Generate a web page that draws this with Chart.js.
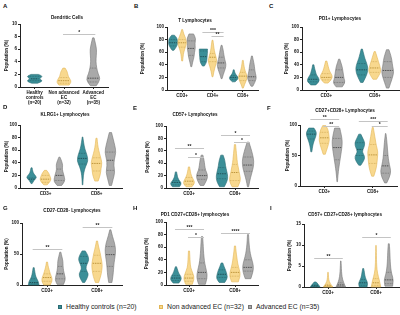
<!DOCTYPE html>
<html>
<head>
<meta charset="utf-8">
<script src="https://cdn.jsdelivr.net/npm/chart.js@4"></script>
<style>
body{margin:0;background:#fff;width:400px;height:315px;position:relative;overflow:hidden;font-family:"Liberation Sans",Arial,sans-serif}
canvas{position:absolute}
.t{position:absolute;font-weight:bold;font-size:4.6px;white-space:nowrap;transform:translate(-50%,-50%);color:#111}
.l{position:absolute;font-weight:bold;font-size:6px;color:#111}
.lg{position:absolute;top:303px;font-size:6.8px;white-space:nowrap;line-height:8px}
.lg span{color:#1a1a1a}
.lg i{display:inline-block;width:4px;height:4px;margin-right:4px;vertical-align:0px;box-sizing:border-box;border:0.7px solid}
</style>
</head>
<body>

<script>
// groups
const groups=['Healthy controls (n=20)','Non advanced EC (n=32)','Advanced EC (n=35)']

// tick values
const ticks10=[0,2,4,6,8,10]
const ticks100=[0,20,40,60,80,100]
const ticks50=[0,50,100]
const ticks15=[0,5,10,15]

// violin = [min, max, q1, median, q3, widths from min to max]
// A - Dendritic cells
const aLabels=[['Healthy','controls','(n=20)'],['Non advanced','EC','(n=32)'],['Advanced','EC','(n=35)']]
const aHealthy=[[0.6,2.0,1.0,1.3,1.7,[0.4,0.95,1,0.6,0.95,1,0.5]],null,null]
const aNonAdv=[null,[0.3,3.0,0.6,1.0,1.5,[0.7,1,0.85,0.6,0.5,0.4,0.15]],null]
const aAdv=[null,null,[0.2,7.8,0.8,1.4,3.0,[0.4,1,0.65,0.45,0.35,0.4,0.45,0.3,0.1]]]
const aSig=[[1,1,2,2,8.4,'*']]

// B - T lymphocytes
const bLabels=['CD3+','CD4+','CD8+']
const bHealthy=[[63,87,70,75,80,[0.2,0.6,0.9,1,0.95,0.8,0.3]],[38,65,45,53,62,[0.2,0.6,0.75,0.8,0.85,0.9,0.9]],[13,32,17,20,23,[0.3,0.8,1,0.7,0.35,0.2,0.1]]]
const bNonAdv=[[46,96,68,75,80,[0.1,0.2,0.35,0.7,1,0.8,0.35,0.1]],[21,79,45,52,58,[0.1,0.3,0.6,1,0.7,0.4,0.25,0.1]],[3,47,15,22,28,[0.1,0.4,0.8,1,0.6,0.35,0.2,0.1]]]
const bAdv=[[37,89,55,66,78,[0.1,0.3,0.6,0.7,0.9,0.8,1,0.5]],[18,71,35,43,52,[0.1,0.4,0.8,1,0.7,0.5,0.35,0.1]],[6,54,15,21,32,[0.2,0.7,1,0.75,0.6,0.5,0.3,0.1]]]
const bSig=[[0,1,2,1,92,'***'],[1,1,2,1,86,'**']]

// C - PD1+
const cLabels=['CD3+','CD8+']
const cHealthy=[[8,40,13,17,24,[0.4,1,0.9,0.5,0.35,0.2,0.1]],[12,65,24,32,42,[0.2,0.6,0.9,1,0.8,0.5,0.3,0.1]]]
const cNonAdv=[[11,46,16,20,26,[0.3,0.9,1,0.6,0.4,0.25,0.1]],[17,61,28,35,45,[0.3,0.7,1,0.9,0.7,0.5,0.3,0.1]]]
const cAdv=[[5,49,12,20,32,[0.5,1,0.8,0.7,0.6,0.5,0.3,0.1]],[3,64,20,31,45,[0.2,0.5,0.8,1,0.8,0.7,0.5,0.2]]]
const cSig=[]

// D - KLRG1+
const dLabels=['CD3+','CD8+']
const dHealthy=[[7,32,11,14,16,[0.1,0.4,1,0.4,0.2,0.1]],[5,81,38,47,55,[0.05,0.1,0.2,0.5,1,0.8,0.4,0.2,0.05]]]
const dNonAdv=[[5,28,9,14,20,[0.3,0.8,1,0.8,0.6,0.2]],[11,79,27,39,48,[0.3,0.7,0.8,1,0.7,0.4,0.2,0.1]]]
const dAdv=[[4,49,12,20,30,[0.4,1,0.9,0.7,0.5,0.6,0.4,0.1]],[4,88,28,44,57,[0.2,0.5,0.8,0.6,0.7,1,0.8,0.5,0.2]]]
const dSig=[]

// E - CD57+
const eLabels=['CD3+','CD8+']
const eHealthy=[[2,26,5,9,12,[0.6,1,0.6,0.3,0.2,0.1]],[2,53,15,23,33,[0.4,0.9,1,0.8,0.6,0.5,0.2]]]
const eNonAdv=[[2,34,6,11,17,[0.5,1,0.8,0.5,0.3,0.2,0.1]],[2,70,12,25,38,[0.5,1,0.8,0.6,0.4,0.3,0.2,0.1]]]
const eAdv=[[4,53,14,20,29,[0.3,0.8,1,0.6,0.45,0.35,0.15]],[2,74,27,37,50,[0.1,0.3,0.6,0.9,1,0.8,0.5,0.15]]]
const eSig=[[0,0,2,0,64,'**'],[1,0,2,0,50,'*'],[0,1,2,1,85,'*'],[1,1,2,1,74,'*']]

// F - CD27+CD28+
const fLabels=['CD3+','CD8+']
const fHealthy=[[56,95,77,85,90,[0.1,0.2,0.35,0.6,0.9,1,0.5]],[34,85,50,60,71,[0.2,0.8,1,0.4,0.8,1,0.6,0.2]]]
const fNonAdv=[[52,99,70,79,88,[0.2,0.5,0.8,1,0.9,0.8,0.3]],[16,96,37,51,68,[0.2,0.6,0.8,0.9,1,0.7,0.5,0.3,0.1]]]
const fAdv=[[7,95,43,63,78,[0.05,0.15,0.3,0.5,0.7,0.9,1,0.8,0.5]],[5,86,21,33,50,[0.2,0.8,1,0.7,0.5,0.4,0.3,0.2,0.05]]]
const fSig=[[0,0,2,0,110,'**'],[1,0,2,0,99,'**'],[0,1,2,1,106,'***'],[1,1,2,1,98,'*']]

// G - CD27-CD28-
const gLabels=['CD3+','CD8+']
const gHealthy=[[0,28,2,4,10,[1,0.9,0.5,0.3,0.2,0.1]],[4,55,22,35,46,[0.2,0.7,0.9,0.35,0.6,1,0.8,0.3]]]
const gNonAdv=[[0,37,6,12,18,[0.6,1,0.9,0.6,0.4,0.2,0.1]],[4,71,22,35,48,[0.3,0.7,0.9,1,0.8,0.6,0.3,0.1]]]
const gAdv=[[1,53,10,18,30,[0.6,1,0.8,0.6,0.5,0.5,0.3,0.1]],[4,89,30,49,62,[0.3,0.5,0.6,0.7,0.9,1,0.8,0.4,0.1]]]
const gSig=[[0,0,2,0,58,'**'],[0,1,2,1,94,'**']]

// H - PD1 CD27+CD28+
const hLabels=['CD3+','CD8+']
const hHealthy=[[3,29,7,11,15,[0.5,1,0.9,0.5,0.3,0.1]],[4,35,12,17,24,[0.5,1,0.9,0.7,0.4,0.15]]]
const hNonAdv=[[1,54,6,11,17,[0.6,1,0.7,0.3,0.2,0.15,0.1]],[5,62,14,20,28,[0.6,1,0.8,0.5,0.35,0.2,0.1]]]
const hAdv=[[1,77,10,20,35,[0.6,1,0.8,0.5,0.35,0.25,0.2,0.1]],[10,80,22,28,40,[0.5,0.9,1,0.7,0.4,0.25,0.15,0.1]]]
const hSig=[[0,0,2,0,89,'***'],[1,0,2,0,76,'*'],[0,1,2,1,82,'****']]

// I - CD57+ CD27+CD28+
const iLabels=['CD3+','CD8+']
const iHealthy=[[0,1.2,0.1,0.3,0.5,[1,0.8,0.5,0.2]],[0,4.4,0.4,1.0,1.8,[0.8,1,0.6,0.35,0.25,0.1]]]
const iNonAdv=[[0,3.5,0.1,0.3,0.6,[1,0.4,0.15,0.1,0.05]],[0,9.9,0.4,1.0,2.0,[1,0.7,0.3,0.15,0.1,0.08,0.05]]]
const iAdv=[[0,6.2,0.2,0.5,1.0,[1,0.5,0.25,0.15,0.1,0.05]],[0.2,10.3,0.8,1.7,3.5,[0.8,1,0.6,0.4,0.3,0.25,0.2,0.1]]]
const iSig=[[0,0,2,0,6.9,'**'],[0,1,2,1,11.9,'*']]

const fills=['#3b8f98','#f8d88e','#a9a9a9']
const edges=['#2a6b73','#e2b656','#777777']
const inner=['#1d4c52','#b88f35','#4a4a4a']

Chart.defaults.font.family='"Liberation Sans", Arial, sans-serif'
Chart.defaults.color='#111'

function drawViolin(ctx,ys,cx,hw,v,g){
  const lo=v[0],hi=v[1],w=v[5],n=w.length
  const pts=w.map((k,i)=>[ys.getPixelForValue(lo+(hi-lo)*i/(n-1)),k*hw])
  ctx.beginPath()
  ctx.moveTo(cx+pts[0][1],pts[0][0])
  for(let i=1;i<n-1;i++){
    ctx.quadraticCurveTo(cx+pts[i][1],pts[i][0],cx+(pts[i][1]+pts[i+1][1])/2,(pts[i][0]+pts[i+1][0])/2)
  }
  ctx.lineTo(cx+pts[n-1][1],pts[n-1][0])
  ctx.lineTo(cx-pts[n-1][1],pts[n-1][0])
  for(let i=n-2;i>0;i--){
    ctx.quadraticCurveTo(cx-pts[i][1],pts[i][0],cx-(pts[i][1]+pts[i-1][1])/2,(pts[i][0]+pts[i-1][0])/2)
  }
  ctx.lineTo(cx-pts[0][1],pts[0][0])
  ctx.closePath()
  ctx.fillStyle=fills[g]
  ctx.fill()
  ctx.strokeStyle=edges[g]
  ctx.lineWidth=0.6
  ctx.stroke()

  function wAt(val){
    let t=(val-lo)/(hi-lo)*(n-1)
    let i=Math.min(n-2,Math.max(0,Math.floor(t)))
    let f=t-i
    return (w[i]*(1-f)+w[i+1]*f)*hw*0.85
  }
  ctx.strokeStyle=inner[g]
  ;[2,3,4].forEach(k=>{
    const py=ys.getPixelForValue(v[k]),hx=wAt(v[k])
    ctx.lineWidth=k==3?0.9:0.5
    ctx.setLineDash(k==3?[1.5,0.8]:[0.8,0.8])
    ctx.beginPath()
    ctx.moveTo(cx-hx,py)
    ctx.lineTo(cx+hx,py)
    ctx.stroke()
  })
  ctx.setLineDash([])
}

function violinPlugin(sig){
  return {
    id:'violins',
    afterDatasetsDraw(chart){
      const ctx=chart.ctx,ys=chart.scales.y
      ctx.save()
      chart.data.datasets.forEach((ds,i)=>{
        const meta=chart.getDatasetMeta(i)
        ds.violins.forEach((v,j)=>{
          if(!v) return
          const el=meta.data[j]
          drawViolin(ctx,ys,el.x,el.width/2,v,i)
        })
      })
      sig.forEach(s=>{
        const a=chart.getDatasetMeta(s[0]).data[s[1]]
        const b=chart.getDatasetMeta(s[2]).data[s[3]]
        const py=Math.round(ys.getPixelForValue(s[4]))+0.5
        ctx.strokeStyle='#c4c4c4'
        ctx.lineWidth=1
        ctx.beginPath()
        ctx.moveTo(a.x-1,py)
        ctx.lineTo(b.x+2,py)
        ctx.stroke()
        ctx.fillStyle='#222'
        ctx.font='bold 5px "Liberation Sans", Arial, sans-serif'
        ctx.textAlign='center'
        ctx.textBaseline='bottom'
        ctx.fillText(s[5],(a.x+b.x)/2+0.5,py+0.8)
      })
      ctx.restore()
    }
  }
}

function makeChart(p){
  const [bx,by,bw,bh]=p.box,[l,t,r,b]=p.area
  const cv=document.createElement('canvas')
  cv.width=bw
  cv.height=bh
  cv.style.left=bx+'px'
  cv.style.top=by+'px'
  document.body.appendChild(cv)
  const yw=l-p.ytx+2.7
  const axisGrid={display:true,drawOnChartArea:false,offset:false,color:'#222',tickLength:2,lineWidth:1}
  new Chart(cv,{
    type:'bar',
    data:{
      labels:p.labels,
      datasets:p.series.map((s,i)=>({
        label:groups[i],
        data:s.map(v=>v?v[3]:null),
        violins:s,
        backgroundColor:'rgba(0,0,0,0)',
        borderWidth:0,
        categoryPercentage:p.cat,
        barPercentage:p.bar
      }))
    },
    options:{
      responsive:false,
      animation:false,
      devicePixelRatio:1,
      skipNull:true,
      layout:{padding:{left:p.ytx-2.7-bx,top:t-by,right:bx+bw-r,bottom:by+bh-b-p.xh}},
      plugins:{legend:{display:false},tooltip:{enabled:false}},
      scales:{
        x:{
          grid:axisGrid,
          border:{color:'#222',width:1},
          ticks:{font:{size:4.5,weight:'bold',lineHeight:1.1},padding:1,maxRotation:0,autoSkip:false},
          afterFit:s=>{s.height=p.xh}
        },
        y:{
          min:0,
          max:p.ticks[p.ticks.length-1],
          afterBuildTicks:s=>{s.ticks=p.ticks.map(v=>({value:v}))},
          grid:axisGrid,
          border:{color:'#222',width:1},
          ticks:{font:{size:4.5,weight:'bold'},padding:1},
          title:{display:true,text:'Population (%)',font:{size:4.5,weight:'bold'},padding:0},
          afterFit:s=>{s.width=yw}
        }
      }
    },
    plugins:[violinPlugin(p.sig)]
  })
}

const panels=[
  {labels:aLabels,series:[aHealthy,aNonAdv,aAdv],sig:aSig,ticks:ticks10,box:[0,10,130,95],area:[20,24,108,87],ytx:7,xh:18,cat:0.5,bar:1},
  {labels:bLabels,series:[bHealthy,bNonAdv,bAdv],sig:bSig,ticks:ticks100,box:[130,10,135,95],area:[167,27,258,90],ytx:142.5,xh:10,cat:0.9,bar:1},
  {labels:cLabels,series:[cHealthy,cNonAdv,cAdv],sig:cSig,ticks:ticks100,box:[265,10,135,95],area:[302,27,399,90],ytx:286.5,xh:10,cat:0.8,bar:0.95},
  {labels:dLabels,series:[dHealthy,dNonAdv,dAdv],sig:dSig,ticks:ticks100,box:[0,105,130,95],area:[20,125,122,188],ytx:7,xh:10,cat:0.82,bar:0.8},
  {labels:eLabels,series:[eHealthy,eNonAdv,eAdv],sig:eSig,ticks:ticks100,box:[130,105,135,95],area:[166,126,258,188],ytx:148,xh:10,cat:0.85,bar:0.9},
  {labels:fLabels,series:[fHealthy,fNonAdv,fAdv],sig:fSig,ticks:ticks50,box:[265,105,135,95],area:[300,125,397,186],ytx:287.5,xh:10,cat:0.8,bar:0.8},
  {labels:gLabels,series:[gHealthy,gNonAdv,gAdv],sig:gSig,ticks:ticks50,box:[0,200,130,97],area:[22,223,122,285],ytx:7,xh:10,cat:0.8,bar:0.8},
  {labels:hLabels,series:[hHealthy,hNonAdv,hAdv],sig:hSig,ticks:ticks100,box:[130,200,135,97],area:[166,222,258,285],ytx:146.5,xh:10,cat:0.85,bar:0.85},
  {labels:iLabels,series:[iHealthy,iNonAdv,iAdv],sig:iSig,ticks:ticks15,box:[265,200,135,97],area:[304,224,400,287],ytx:290,xh:10,cat:0.8,bar:0.75}
]
panels.forEach(makeChart)

// panel letters and titles
const letters=[['A',3,3],['B',134,3],['C',269,3],['D',3,104],['E',133,105],['F',267,105],['G',3,205],['H',133,205],['I',270,205]]
letters.forEach(a=>{
  const d=document.createElement('div')
  d.className='l'
  d.textContent=a[0]
  d.style.left=a[1]+'px'
  d.style.top=a[2]+'px'
  document.body.appendChild(d)
})
const titles=[['Dendritic Cells',67,17],['T Lymphocytes',195,20],['PD1+ Lymphocytes',340,18],['KLRG1+ Lymphocytes',65,114],['CD57+ Lymphocytes',195,114],['CD27+CD28+ Lymphocytes',345,110],['CD27-CD28- Lymphocytes',72,210],['PD1 CD27+CD28+ lymphocytes',195,214],['CD57+ CD27+CD28+ lymphocytes',345,214]]
titles.forEach(a=>{
  const d=document.createElement('div')
  d.className='t'
  d.textContent=a[0]
  d.style.left=a[1]+'px'
  d.style.top=a[2]+'px'
  document.body.appendChild(d)
})

// legend
const legendX=[58,159,248]
groups.forEach((g,i)=>{
  const d=document.createElement('div')
  d.className='lg'
  d.style.left=legendX[i]+'px'
  d.innerHTML='<i style="background:'+fills[i]+';border-color:'+edges[i]+'"></i><span>'+g+'</span>'
  document.body.appendChild(d)
})
</script>
</body>
</html>
